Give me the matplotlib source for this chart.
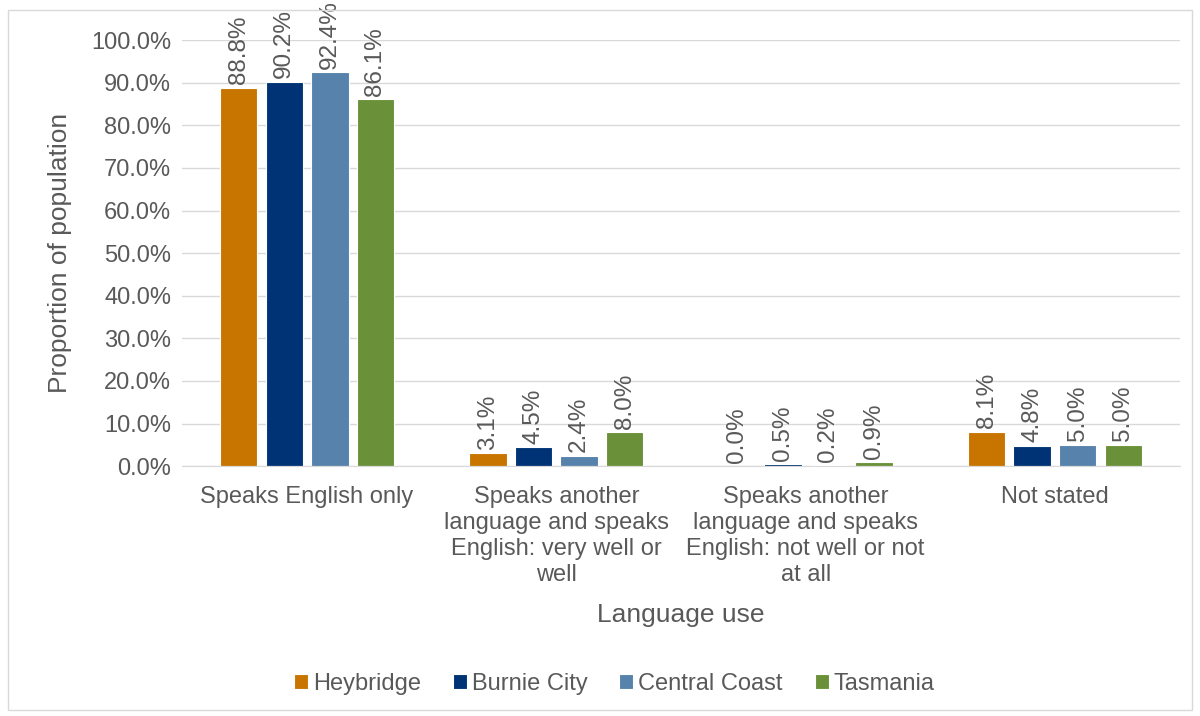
import numpy as np
import matplotlib.pyplot as plt
from matplotlib.patches import Rectangle
from matplotlib.ticker import PercentFormatter

plt.rcParams['font.family'] = ['Liberation Sans', 'DejaVu Sans']

categories = ["Speaks English only",
              "Speaks another\nlanguage and speaks\nEnglish: very well or\nwell",
              "Speaks another\nlanguage and speaks\nEnglish: not well or not\nat all",
              "Not stated"]
series = ["Heybridge", "Burnie City", "Central Coast", "Tasmania"]
heybridge = [88.8, 3.1, 0.0, 8.1]
burnie = [90.2, 4.5, 0.5, 4.8]
central = [92.4, 2.4, 0.2, 5.0]
tasmania = [86.1, 8.0, 0.9, 5.0]
values = [heybridge, burnie, central, tasmania]
colors = ["#c87500", "#003375", "#5682ab", "#6a9139"]

txt = "#595959"
fig = plt.figure(figsize=(12, 7.16), dpi=100)
fig.patches.append(Rectangle((8 / 1200, 6 / 716), 1184 / 1200, 700 / 716,
                             transform=fig.transFigure, fill=False,
                             edgecolor="#d9d9d9", linewidth=1))
ax = fig.add_axes([0.152, 0.349, 0.831, 0.595])

x = np.arange(len(categories))
pitch = 0.183
width = 0.15
for i, (name, vals) in enumerate(zip(series, values)):
    pos = x + (i - 1.5) * pitch
    bars = ax.bar(pos, vals, width, color=colors[i], label=name,
                  edgecolor="white", linewidth=0.8, zorder=3)
    for xp, v in zip(pos, vals):
        ax.text(xp, v + 0.8, f"{v:.1f}%", rotation=90, ha="center", va="bottom",
                fontsize=17.5, color=txt, clip_on=False)

ax.set_xlim(-0.5, 3.5)
ax.set_ylim(0, 100)
ax.set_yticks(np.arange(0, 101, 10))
ax.yaxis.set_major_formatter(PercentFormatter(decimals=1))
ax.set_xticks(x)
ax.set_xticklabels(categories, linespacing=1.25)
ax.tick_params(axis="both", length=0, labelsize=17, labelcolor=txt)
ax.tick_params(axis="x", pad=14)
ax.tick_params(axis="y", pad=8)
ax.grid(axis="y", color="#d9d9d9", linewidth=1, zorder=0)
for s in ["top", "right", "left"]:
    ax.spines[s].set_visible(False)
ax.spines["bottom"].set_color("#d9d9d9")
ax.spines["bottom"].set_zorder(4)

ax.set_ylabel("Proportion of population", fontsize=19, color=txt, labelpad=14)
ax.set_xlabel("Language use", fontsize=19, color=txt, labelpad=12)

leg = ax.legend(loc="center", bbox_to_anchor=(0.433, -0.512), ncol=4, frameon=False,
                fontsize=17, handlelength=0.6, handleheight=0.6, handletextpad=0.2,
                columnspacing=1.35)
for t in leg.get_texts():
    t.set_color(txt)

fig.savefig("out.png", dpi=100)
